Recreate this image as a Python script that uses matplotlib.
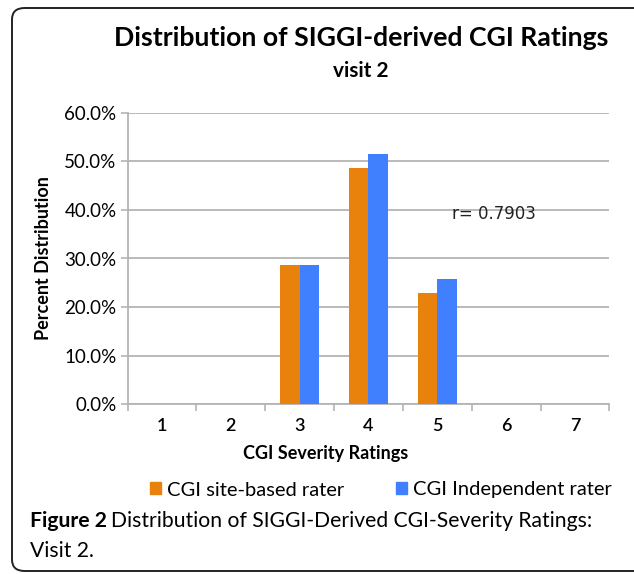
import numpy as np
import matplotlib
matplotlib.use("Agg")
import matplotlib.pyplot as plt
from matplotlib.patches import FancyBboxPatch, Patch
from matplotlib.ticker import FuncFormatter

plt.rcParams['font.family'] = ['Lato', 'DejaVu Sans']

# data (percent of patients)
ratings = [1, 2, 3, 4, 5, 6, 7]
site_based = [0.0, 0.0, 28.6, 48.6, 22.9, 0.0, 0.0]
independent = [0.0, 0.0, 28.6, 51.5, 25.7, 0.0, 0.0]
series_names = ["CGI site-based rater", "CGI Independent rater"]
y_ticks = [0, 10, 20, 30, 40, 50, 60]
r_label = "r= 0.7903"

ORANGE = "#E8820C"
BLUE = "#4080FF"
GRID = "#b4b4b4"

W, H = 634, 574
fig = plt.figure(figsize=(W / 100, H / 100), dpi=100)

# rounded frame around the panel, clipped on the right like the scan
frame = FancyBboxPatch((12 / W, 3 / H), 1.2, (571 - 8) / H,
                       boxstyle="round,pad=0,rounding_size=0.02",
                       transform=fig.transFigure, fill=False,
                       edgecolor="#222222", linewidth=1.4)
fig.patches.append(frame)

ax = fig.add_axes([127.7 / W, 1 - 404.3 / H, (609.3 - 127.7) / W, (404.3 - 112.7) / H])

x = np.array(ratings)
bw = 0.28
ax.bar(x - bw / 2, site_based, width=bw, color=ORANGE, zorder=3)
ax.bar(x + bw / 2, independent, width=bw, color=BLUE, zorder=3)

ax.set_xlim(0.5, 7.5)
ax.set_ylim(0, 60)
ax.set_yticks(y_ticks)
ax.yaxis.set_major_formatter(FuncFormatter(lambda v, p: f"{v:.1f}%"))
ax.set_xticks(ratings)
ax.set_xticks(np.arange(0.5, 8, 1), minor=True)
ax.tick_params(axis='x', which='major', length=0, pad=10, labelsize=13)
ax.tick_params(axis='x', which='minor', length=5, color=GRID, width=1.2)
ax.tick_params(axis='y', length=5, color=GRID, width=1.2, pad=3, labelsize=13.5)
for lbl in ax.get_xticklabels():
    lbl.set_fontweight('semibold')
ax.grid(axis='y', color=GRID, linewidth=1.3, zorder=0)
for s in ['top', 'right']:
    ax.spines[s].set_visible(False)
for s in ['left', 'bottom']:
    ax.spines[s].set_color(GRID)
    ax.spines[s].set_linewidth(1.3)

ax.set_ylabel("Percent Distribution", fontsize=13, fontweight='bold', labelpad=9)

ax.text(5.21, 39.2, r_label, fontsize=12, va='center', ha='left',
        family='DejaVu Sans', color="#222222")

fig.text(326 / W, 1 - 453 / H, "CGI Severity Ratings", ha='center', va='center',
         fontsize=13, fontweight='bold')

fig.text(361 / W, 1 - 38 / H, "Distribution of SIGGI-derived CGI Ratings",
         ha='center', va='center', fontsize=19.2, fontweight='bold')
fig.text(361 / W, 1 - 71 / H, "visit 2", ha='center', va='center',
         fontsize=15, fontweight='bold')

handles = [Patch(color=ORANGE), Patch(color=BLUE)]
fig.legend(handles, series_names, loc='center', bbox_to_anchor=(381 / W, 1 - 490 / H),
           ncol=2, frameon=False, fontsize=14.5, handlelength=0.55, handleheight=0.55,
           handletextpad=0.3, columnspacing=2.6)

fig.text(30 / W, 1 - 521 / H, "Figure 2", ha='left', va='center',
         fontsize=15.2, fontweight='bold')
fig.text(111 / W, 1 - 521 / H, "Distribution of SIGGI-Derived CGI-Severity Ratings:",
         ha='left', va='center', fontsize=15.2)
fig.text(30 / W, 1 - 551 / H, "Visit 2.", ha='left', va='center', fontsize=15.2)

fig.savefig("out.png", dpi=100)
